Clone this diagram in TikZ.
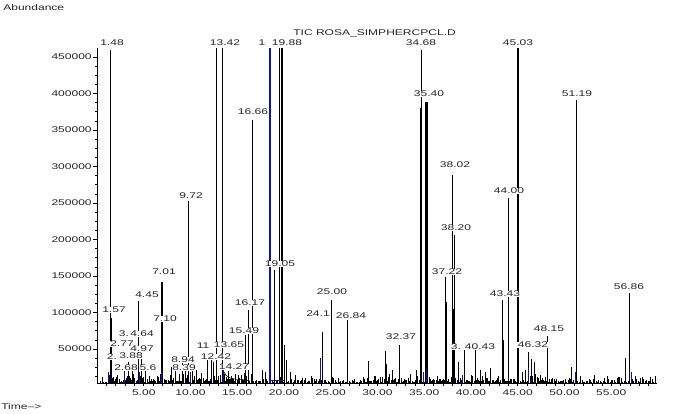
\documentclass[tikz,border=0pt]{standalone}
\usepackage{fontspec}
\setmainfont{Liberation Sans}[FakeStretch=1.45]
\definecolor{pblue}{RGB}{20,20,150}
\newcommand\pkx[3][]{\draw[#1] (#2,383) -- (#2,#3);}
\begin{document}
\begin{tikzpicture}[x=1pt,y=-1pt,line width=0.6pt,
  lbl/.style={font=\fontsize{8.3}{9}\selectfont,text=black!85,inner sep=0.5pt,fill=white},
  axl/.style={font=\fontsize{8.3}{9}\selectfont,text=black!85,inner sep=0pt},
  thk/.style={line width=1.6pt},
  mid/.style={line width=1.1pt},
  bl/.style={draw=pblue,line width=1pt}]
\useasboundingbox (0,0) rectangle (674,413);
% baseline noise
\pgfmathsetseed{12}
\foreach \t in {0.4,0.55,...,59.6}{
  \pgfmathsetmacro\h{383-1-9*rnd*rnd}
  \draw[line width=0.5pt] ({97+9.35*\t},383) -- ({97+9.35*\t},\h);}
\foreach \t in {1.2,1.4,...,15.8}{
  \pgfmathsetmacro\h{383-2-12*rnd*rnd}
  \draw[line width=0.6pt] ({97+9.35*\t},383) -- ({97+9.35*\t},\h);}
\foreach \t in {28.5,28.7,...,50}{
  \pgfmathsetmacro\h{383-1-10*rnd*rnd*rnd}
  \draw[line width=0.5pt] ({97+9.35*\t},383) -- ({97+9.35*\t},\h);}
% peaks
\pkx{110.5}{50}
\pkx[thk]{111}{318}
\pkx[thk]{138.5}{301}
\pkx{141.5}{357}
\pkx{128}{362}\pkx{132}{366}\pkx{145}{365}
\pkx[thk]{162}{282}
\pkx{171}{367}\pkx{175}{365}\pkx{182}{362}\pkx{185}{368}
\pkx{188}{201}\pkx[mid]{188.6}{322}
\pkx{192}{365}\pkx{196}{370}
\pkx{207}{360}\pkx{211}{356}\pkx{213}{362}
\pkx{216.7}{48}\pkx{221.8}{48}
\draw (224,372) .. controls (228,381) and (236,378) .. (250,381);
\pkx[mid]{245.5}{335}
\pkx{248.5}{310}
\pkx{252.7}{120}
\pkx{262}{370}\pkx{265}{372}
\pkx{274.5}{270}
\pkx[mid]{279.5}{48}\pkx[mid]{282}{48}
\pkx{284}{345}\pkx{286}{360}\pkx{290}{372}
\pkx[mid]{322.7}{332}
\pkx{331}{300}\pkx[mid]{331.3}{367}
\pkx{347.3}{320}\pkx[mid]{347.6}{336}
\pkx{368}{361}\pkx{385}{351}\pkx{386.5}{364}\pkx{392}{370}
\pkx{399.5}{345}
\pkx{416.7}{370}
\pkx[line width=1.4pt]{420.5}{108}
\pkx{421.7}{50}
\pkx[line width=2.2pt]{426.5}{102}
\pkx{445}{277}\pkx[mid]{446.5}{302}
\pkx{452.6}{175}\pkx{454.3}{235}\pkx[mid]{453.5}{309}
\pkx{458}{362}
\pkx{464}{350}\pkx{475}{350}
\pkx{480}{370}\pkx{485}{372}\pkx{490}{368}
\pkx{502.7}{300}\pkx[mid]{503}{340}
\pkx{508.3}{198}\pkx[mid]{508.5}{340}
\pkx[line width=1.8pt]{518.3}{48}
\pkx{522}{372}\pkx{525}{370}
\pkx[thk]{528.5}{352}\pkx{531.7}{359}\pkx{534}{362}
\pkx{547.3}{336}
\pkx{571.7}{367}
\pkx{576}{100}\pkx[mid]{576.5}{118}
\pkx{625}{358}
\pkx[line width=1.4pt]{629.3}{293}
\pkx{655}{376}
% blue traces
\pkx[bl]{108}{372}\pkx[bl]{124}{371}\pkx[bl]{139.5}{372}\pkx[bl]{161}{370}
\pkx[bl]{190}{372}\pkx[bl]{223}{368}
\pkx[bl,line width=1.6pt]{270}{48}
\draw[pblue,line width=0.6pt] (270,380) -- (284,380);
\pkx[bl]{320}{358}\pkx[bl]{423}{372}\pkx[bl]{426}{370}\pkx[bl]{462}{375}
\pkx[bl]{528}{368}\pkx[bl]{575}{372}\pkx[bl]{631}{372}
% labels
\node[lbl] (l148) at (112,43) {1.48};
\node[lbl] (l1342) at (225,43) {13.42};
\node[lbl] (l1) at (262,43) {1};
\node[lbl] (l1988) at (287,43) {19.88};
\node[axl,anchor=west] (title) at (293,33) {TIC ROSA\_SIMPHERCPCL.D};
\node[lbl] (l3468) at (421,43) {34.68};
\node[lbl] (l4503) at (518,43) {45.03};
\node[lbl] (l3540) at (429,94) {35.40};
\node[lbl] (l5119) at (577,94) {51.19};
\node[lbl] (l1666) at (253,112) {16.66};
\node[lbl] (l3802) at (455,165) {38.02};
\node[lbl] (l4400) at (509,191) {44.00};
\node[lbl] (l972) at (191,196) {9.72};
\node[lbl] (l3820) at (456,228) {38.20};
\node[lbl] (l1905) at (280,264) {19.05};
\node[lbl] (l701) at (164,272) {7.01};
\node[lbl] (l3722) at (447,272) {37.22};
\node[lbl] (l5686) at (629,287) {56.86};
\node[lbl] (l2500) at (332,292) {25.00};
\node[lbl] (l4343) at (505,294) {43.43};
\node[lbl] (l445) at (147,295) {4.45};
\node[lbl] (l1617) at (250,303) {16.17};
\node[lbl] (l157) at (114,310) {1.57};
\node[lbl] (l241) at (318,314) {24.1};
\node[lbl] (l2684) at (351,316) {26.84};
\node[lbl] (l710) at (165,319) {7.10};
\node[lbl] (l4815) at (549,329) {48.15};
\node[lbl] (l1549) at (244,331) {15.49};
\node[lbl] (l3) at (124,334) {3.};
\node[lbl] (l464) at (142,334) {4.64};
\node[lbl] (l3237) at (401,337) {32.37};
\node[lbl] (l11) at (203,346) {11};
\node[lbl] (l277) at (122,344) {2.77};
\node[lbl] (l388) at (131,356) {3.88};
\node[lbl] (l497) at (142,349) {4.97};
\node[lbl] (l1365) at (229,345) {13.65};
\node[lbl] (l3x) at (456,347) {3.};
\node[lbl] (l4043) at (480,347) {40.43};
\node[lbl] (l4632) at (533,345) {46.32};
\node[lbl] (l2) at (112,357) {2.};
\node[lbl] (l1242) at (216,357) {12.42};
\node[lbl] (l894) at (183,360) {8.94};
\node[lbl] (l268) at (126,368) {2.68};
\node[lbl] (l56) at (148,368) {5.6};
\node[lbl] (l839) at (184,368) {8.39};
\node[lbl] (l1427) at (234,367) {14.27};
% axes
\draw (97,48) -- (97,383) -- (657,383);
\foreach \v in {1,...,36}{
  \pgfmathsetmacro\yy{385.5-\v*9.125}
  \pgfmathtruncatemacro\m{mod(\v,4)}
  \ifnum\m=0 \draw (97,\yy) -- (93,\yy); \else \draw (97,\yy) -- (95,\yy); \fi}
\foreach \v in {1,...,9}{
  \pgfmathsetmacro\yy{385.5-\v*36.5}
  \pgfmathtruncatemacro\k{5*\v}
  \node[axl,anchor=east] at (92,\yy) {\k0000};}
\foreach \t in {1,...,59}{
  \draw ({97+9.35*\t},383) -- ({97+9.35*\t},385.5);}
\foreach \t in {5,10,...,55}{
  \node[axl] at ({97+9.35*\t},393) {\t.00};}
\node[axl,anchor=west] (ab) at (3,8) {Abundance};
\node[axl,anchor=west] (tm) at (1,407) {Time-->};
\end{tikzpicture}
\end{document}
